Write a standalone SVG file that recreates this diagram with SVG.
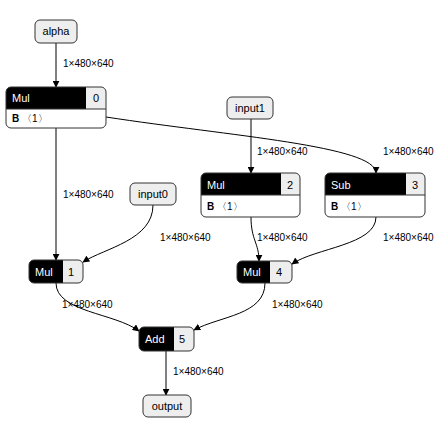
<svg xmlns="http://www.w3.org/2000/svg" width="446" height="431" viewBox="0 0 446 431">
<style>
.n{font-family:"Liberation Sans",Arial,sans-serif;font-size:11px}
.io{fill:#eeeeee;stroke:#333;stroke-width:1}
.hd{fill:#000}
.ix{fill:#eeeeee}
.fr{fill:none;stroke:#333;stroke-width:1}
.wt{fill:#fff}
.bk{fill:#000}
.e{fill:none;stroke:#000;stroke-width:1}
.lb{font-family:"Liberation Sans",Arial,sans-serif;font-size:10px;fill:#000}
.at{font-family:"Liberation Sans",Arial,sans-serif;font-size:10px;fill:#000}
</style>
<defs>
<marker id="ar" viewBox="0 0 10 10" refX="9" refY="5" markerWidth="7" markerHeight="7" orient="auto" markerUnits="userSpaceOnUse"><path d="M0,0 L10,5 L0,10 z" fill="#000"/></marker>
</defs>
<rect width="446" height="431" fill="#fff"/>
<g id="connectors">
<path class="e" d="M56,43 L56,87" marker-end="url(#ar)"/>
<path class="e" d="M56,128 L56,260" marker-end="url(#ar)"/>
<path class="e" d="M106,117 C230,136 376,146 376,173" marker-end="url(#ar)"/>
<path class="e" d="M251,119 L251,173" marker-end="url(#ar)"/>
<path class="e" d="M153,205 C153,240 105,248 83,262" marker-end="url(#ar)"/>
<path class="e" d="M251,217 C251,240 259,243 259,261" marker-end="url(#ar)"/>
<path class="e" d="M376,217 C376,245 315,248 292,264" marker-end="url(#ar)"/>
<path class="e" d="M56,283 C56,312 115,313 139,331" marker-end="url(#ar)"/>
<path class="e" d="M265,283 C265,315 220,316 194,330" marker-end="url(#ar)"/>
<path class="e" d="M166,351 L166,395" marker-end="url(#ar)"/>
<text class="lb" x="63" y="67">1×480×640</text>
<text class="lb" x="63" y="198">1×480×640</text>
<text class="lb" x="257" y="155">1×480×640</text>
<text class="lb" x="383" y="155">1×480×640</text>
<text class="lb" x="160" y="241">1×480×640</text>
<text class="lb" x="257" y="241">1×480×640</text>
<text class="lb" x="383" y="241">1×480×640</text>
<text class="lb" x="62" y="308">1×480×640</text>
<text class="lb" x="272" y="308">1×480×640</text>
<text class="lb" x="173" y="375">1×480×640</text>
</g>
<g id="alpha">
<rect class="io" x="35" y="20" width="42" height="23" rx="5"/>
<text class="n bk" x="56" y="35" text-anchor="middle">alpha</text>
</g>
<g id="input1">
<rect class="io" x="227" y="97" width="46" height="22" rx="5"/>
<text class="n bk" x="250" y="112" text-anchor="middle">input1</text>
</g>
<g id="input0">
<rect class="io" x="130" y="183" width="46" height="22" rx="5"/>
<text class="n bk" x="153" y="198" text-anchor="middle">input0</text>
</g>
<g id="output">
<rect class="io" x="143" y="395" width="48" height="22" rx="5"/>
<text class="n bk" x="167" y="410" text-anchor="middle">output</text>
</g>
<g id="mul0">
<path class="hd" d="M11,87 H86 V109 H6 V92 A5,5 0 0 1 11,87 z"/>
<path class="ix" d="M86,87 H101 A5,5 0 0 1 106,92 V109 H86 z"/>
<rect x="6" y="109" width="100" height="19" fill="#fff"/>
<rect class="fr" x="6" y="87" width="100" height="41" rx="5"/>
<line x1="6" y1="109" x2="106" y2="109" stroke="#333"/>
<text class="n wt" x="12" y="102">Mul</text>
<text class="n bk" x="96" y="102" text-anchor="middle">0</text>
<text class="at" x="12" y="122"><tspan font-weight="bold">B</tspan> 〈1〉</text>
</g>
<g id="mul2">
<path class="hd" d="M206,173 H281 V195 H201 V178 A5,5 0 0 1 206,173 z"/>
<path class="ix" d="M281,173 H295 A5,5 0 0 1 300,178 V195 H281 z"/>
<rect x="201" y="195" width="99" height="22" fill="#fff"/>
<rect class="fr" x="201" y="173" width="99" height="44" rx="5"/>
<line x1="201" y1="195" x2="300" y2="195" stroke="#333"/>
<text class="n wt" x="207" y="189">Mul</text>
<text class="n bk" x="290" y="189" text-anchor="middle">2</text>
<text class="at" x="207" y="210"><tspan font-weight="bold">B</tspan> 〈1〉</text>
</g>
<g id="sub3">
<path class="hd" d="M330,173 H406 V195 H325 V178 A5,5 0 0 1 330,173 z"/>
<path class="ix" d="M406,173 H420 A5,5 0 0 1 425,178 V195 H406 z"/>
<rect x="325" y="195" width="100" height="22" fill="#fff"/>
<rect class="fr" x="325" y="173" width="100" height="44" rx="5"/>
<line x1="325" y1="195" x2="425" y2="195" stroke="#333"/>
<text class="n wt" x="331" y="189">Sub</text>
<text class="n bk" x="415" y="189" text-anchor="middle">3</text>
<text class="at" x="331" y="210"><tspan font-weight="bold">B</tspan> 〈1〉</text>
</g>
<g id="mul1">
<path class="hd" d="M34,260 H63 V283 H34 A5,5 0 0 1 29,278 V265 A5,5 0 0 1 34,260 z"/>
<path class="ix" d="M63,260 H78 A5,5 0 0 1 83,265 V278 A5,5 0 0 1 78,283 H63 z"/>
<rect class="fr" x="29" y="260" width="54" height="23" rx="5"/>
<text class="n wt" x="35" y="276">Mul</text>
<text class="n bk" x="71" y="276" text-anchor="middle">1</text>
</g>
<g id="mul4">
<path class="hd" d="M242,261 H270 V283 H242 A5,5 0 0 1 237,278 V266 A5,5 0 0 1 242,261 z"/>
<path class="ix" d="M270,261 H287 A5,5 0 0 1 292,266 V278 A5,5 0 0 1 287,283 H270 z"/>
<rect class="fr" x="237" y="261" width="55" height="22" rx="5"/>
<text class="n wt" x="243" y="276">Mul</text>
<text class="n bk" x="279" y="276" text-anchor="middle">4</text>
</g>
<g id="add5">
<path class="hd" d="M144,327 H174 V351 H144 A5,5 0 0 1 139,346 V332 A5,5 0 0 1 144,327 z"/>
<path class="ix" d="M174,327 H189 A5,5 0 0 1 194,332 V346 A5,5 0 0 1 189,351 H174 z"/>
<rect class="fr" x="139" y="327" width="55" height="24" rx="5"/>
<text class="n wt" x="145" y="343">Add</text>
<text class="n bk" x="182" y="343" text-anchor="middle">5</text>
</g>
</svg>
